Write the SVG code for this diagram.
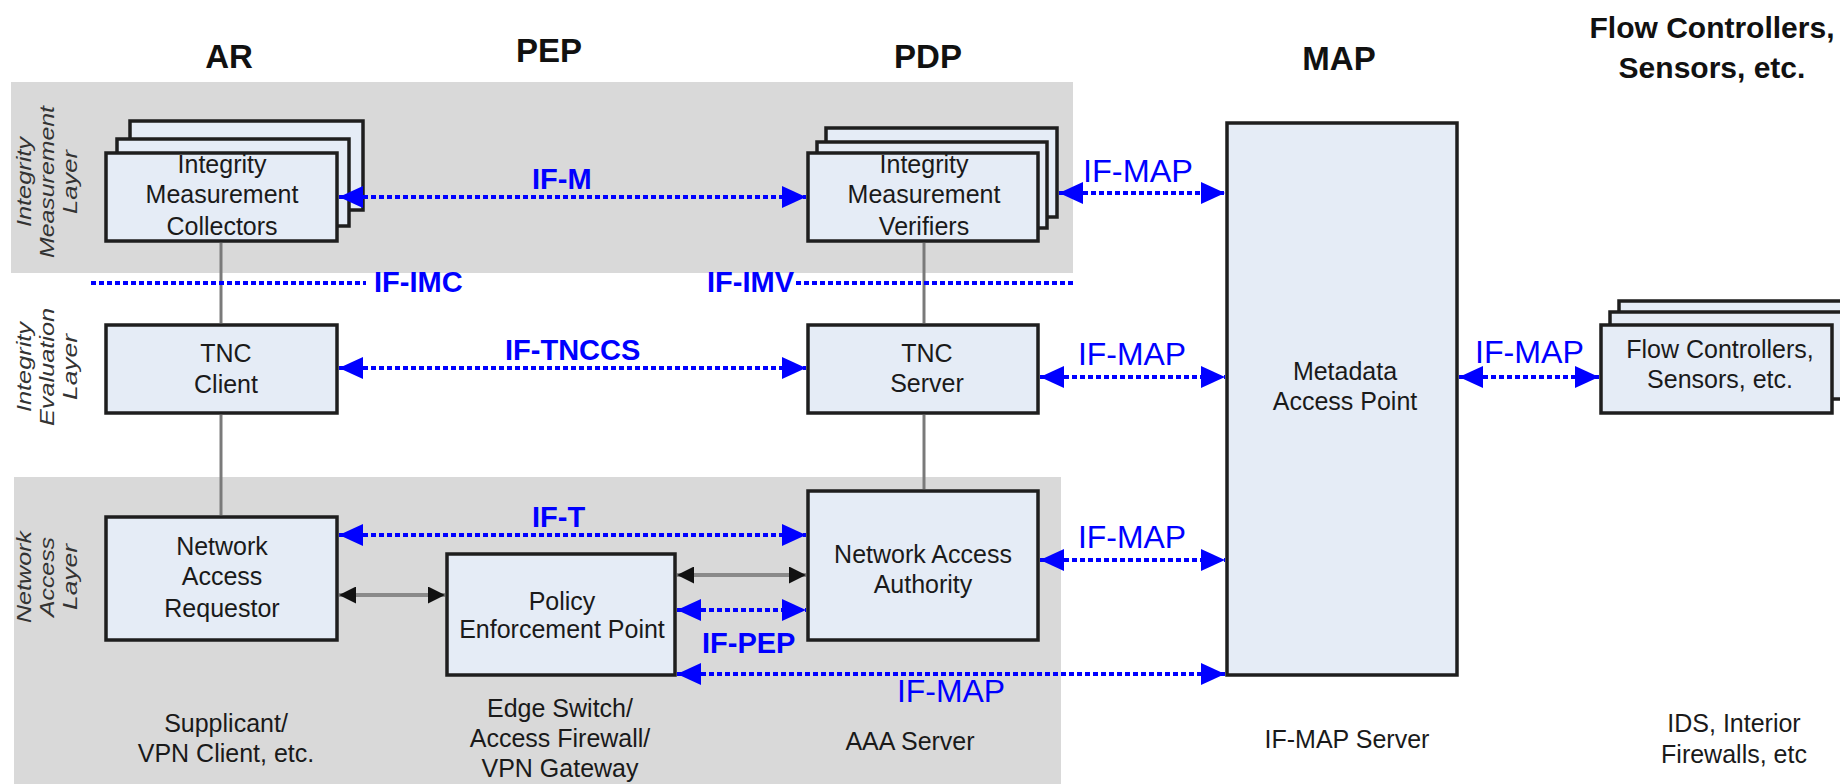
<svg xmlns="http://www.w3.org/2000/svg" width="1840" height="784" viewBox="0 0 1840 784">
<defs>
<style>
.band{fill:#d9d9d9}
.box{fill:#e5ecf6;stroke:#1e1e1e;stroke-width:3.5}
.t{font-family:"Liberation Sans",Arial,sans-serif;font-size:25px;fill:#1a1a1a;text-anchor:middle}
.h{font-family:"Liberation Sans",Arial,sans-serif;font-size:33px;font-weight:bold;fill:#111;text-anchor:middle}
.lbl{font-family:"Liberation Sans",Arial,sans-serif;font-size:29px;font-weight:bold;fill:#0000ff}
.lblr{font-family:"Liberation Sans",Arial,sans-serif;font-size:31px;fill:#0000ff}
.layer{font-family:"Liberation Sans",Arial,sans-serif;font-size:20px;font-style:italic;fill:#333;text-anchor:middle}
.dot{stroke:#0000ff;stroke-width:4;stroke-dasharray:5 3;fill:none}
.blk{stroke:#8a8a8a;stroke-width:4;fill:none}
.vline{stroke:#7a7a7a;stroke-width:3;fill:none}
</style>
<marker id="ab" viewBox="0 0 24 22" refX="24" refY="11" markerWidth="24" markerHeight="22" markerUnits="userSpaceOnUse" orient="auto-start-reverse"><path d="M0,0 L24,11 L0,22 z" fill="#0000ff"/></marker>
<marker id="ak" viewBox="0 0 17 17" refX="17" refY="8.5" markerWidth="17" markerHeight="17" markerUnits="userSpaceOnUse" orient="auto-start-reverse"><path d="M0,0 L17,8.5 L0,17 z" fill="#111"/></marker>
</defs>
<rect width="1840" height="784" fill="#fff"/>

<g id="layers">
<rect class="band" x="11" y="82" width="1062" height="191"/>
<rect class="band" x="14" y="477" width="1047" height="307"/>
<text class="layer" transform="translate(31,182) rotate(-90)"><tspan x="0" y="0" textLength="90" lengthAdjust="spacingAndGlyphs">Integrity</tspan><tspan x="0" y="23" textLength="152" lengthAdjust="spacingAndGlyphs">Measurement</tspan><tspan x="0" y="46" textLength="64" lengthAdjust="spacingAndGlyphs">Layer</tspan></text>
<text class="layer" transform="translate(31,367) rotate(-90)"><tspan x="0" y="0" textLength="90" lengthAdjust="spacingAndGlyphs">Integrity</tspan><tspan x="0" y="23" textLength="118" lengthAdjust="spacingAndGlyphs">Evaluation</tspan><tspan x="0" y="46" textLength="66" lengthAdjust="spacingAndGlyphs">Layer</tspan></text>
<text class="layer" transform="translate(31,577) rotate(-90)"><tspan x="0" y="0" textLength="92" lengthAdjust="spacingAndGlyphs">Network</tspan><tspan x="0" y="23" textLength="80" lengthAdjust="spacingAndGlyphs">Access</tspan><tspan x="0" y="46" textLength="66" lengthAdjust="spacingAndGlyphs">Layer</tspan></text>
</g>

<g id="headers">
<text class="h" x="229" y="68">AR</text>
<text class="h" x="549" y="62">PEP</text>
<text class="h" x="928" y="68">PDP</text>
<text class="h" x="1339" y="70">MAP</text>
<text class="h" x="1712" y="38" style="font-size:30px">Flow Controllers,</text>
<text class="h" x="1712" y="78" style="font-size:30px">Sensors, etc.</text>
</g>

<g id="imc">
<rect class="box" x="130" y="121" width="233" height="89"/>
<rect class="box" x="117" y="139" width="232" height="87"/>
<rect class="box" x="106" y="153" width="231" height="88"/>
<text class="t" x="222" y="173">Integrity</text>
<text class="t" x="222" y="203">Measurement</text>
<text class="t" x="222" y="235">Collectors</text>
</g>

<g id="imv">
<rect class="box" x="826" y="128" width="231" height="89"/>
<rect class="box" x="817" y="142" width="230" height="86"/>
<rect class="box" x="808" y="153" width="230" height="88"/>
<text class="t" x="924" y="173">Integrity</text>
<text class="t" x="924" y="203">Measurement</text>
<text class="t" x="924" y="235">Verifiers</text>
</g>

<g id="tnc-client">
<rect class="box" x="106" y="325" width="231" height="88"/>
<text class="t" x="226" y="362">TNC</text>
<text class="t" x="226" y="393">Client</text>
</g>

<g id="tnc-server">
<rect class="box" x="808" y="325" width="230" height="88"/>
<text class="t" x="927" y="362">TNC</text>
<text class="t" x="927" y="392">Server</text>
</g>

<g id="nar">
<rect class="box" x="106" y="517" width="231" height="123"/>
<text class="t" x="222" y="555">Network</text>
<text class="t" x="222" y="585">Access</text>
<text class="t" x="222" y="617">Requestor</text>
</g>

<g id="pep">
<rect class="box" x="447" y="554" width="228" height="121"/>
<text class="t" x="562" y="610">Policy</text>
<text class="t" x="562" y="638">Enforcement Point</text>
</g>

<g id="naa">
<rect class="box" x="808" y="491" width="230" height="149"/>
<text class="t" x="923" y="563">Network Access</text>
<text class="t" x="923" y="593">Authority</text>
</g>

<g id="map">
<rect class="box" x="1227" y="123" width="230" height="552"/>
<text class="t" x="1345" y="380">Metadata</text>
<text class="t" x="1345" y="410">Access Point</text>
</g>

<g id="flow">
<rect class="box" x="1619" y="301" width="235" height="86"/>
<rect class="box" x="1610" y="312" width="233" height="87"/>
<rect class="box" x="1601" y="325" width="231" height="88"/>
<text class="t" x="1720" y="358">Flow Controllers,</text>
<text class="t" x="1720" y="388">Sensors, etc.</text>
</g>

<g id="captions">
<text class="t" x="226" y="732">Supplicant/</text>
<text class="t" x="226" y="762">VPN Client, etc.</text>
<text class="t" x="560" y="717">Edge Switch/</text>
<text class="t" x="560" y="747">Access Firewall/</text>
<text class="t" x="560" y="777">VPN Gateway</text>
<text class="t" x="910" y="750">AAA Server</text>
<text class="t" x="1347" y="748">IF-MAP Server</text>
<text class="t" x="1734" y="732">IDS, Interior</text>
<text class="t" x="1734" y="763">Firewalls, etc</text>
</g>

<g id="connectors">
<line class="vline" x1="221" y1="243" x2="221" y2="323"/>
<line class="vline" x1="221" y1="415" x2="221" y2="515"/>
<line class="vline" x1="924" y1="243" x2="924" y2="323"/>
<line class="vline" x1="924" y1="415" x2="924" y2="489"/>
<line class="dot" x1="91" y1="283" x2="366" y2="283"/>
<line class="dot" x1="796" y1="283" x2="1074" y2="283"/>
<line class="dot" x1="339" y1="197" x2="806" y2="197" marker-start="url(#ab)" marker-end="url(#ab)"/>
<line class="dot" x1="339" y1="368" x2="806" y2="368" marker-start="url(#ab)" marker-end="url(#ab)"/>
<line class="dot" x1="339" y1="535" x2="806" y2="535" marker-start="url(#ab)" marker-end="url(#ab)"/>
<line class="dot" x1="1059" y1="193" x2="1225" y2="193" marker-start="url(#ab)" marker-end="url(#ab)"/>
<line class="dot" x1="1040" y1="377" x2="1225" y2="377" marker-start="url(#ab)" marker-end="url(#ab)"/>
<line class="dot" x1="1040" y1="560" x2="1225" y2="560" marker-start="url(#ab)" marker-end="url(#ab)"/>
<line class="dot" x1="677" y1="674" x2="1225" y2="674" marker-start="url(#ab)" marker-end="url(#ab)"/>
<line class="dot" x1="1459" y1="377" x2="1599" y2="377" marker-start="url(#ab)" marker-end="url(#ab)"/>
<line class="dot" x1="677" y1="610" x2="806" y2="610" marker-start="url(#ab)" marker-end="url(#ab)"/>
<line class="blk" x1="339" y1="595" x2="445" y2="595" marker-start="url(#ak)" marker-end="url(#ak)"/>
<line class="blk" x1="677" y1="575" x2="806" y2="575" marker-start="url(#ak)" marker-end="url(#ak)"/>
<text class="lbl" x="532" y="189">IF-M</text>
<text class="lbl" x="374" y="292">IF-IMC</text>
<text class="lbl" x="707" y="292">IF-IMV</text>
<text class="lbl" x="505" y="360">IF-TNCCS</text>
<text class="lbl" x="532" y="527">IF-T</text>
<text class="lbl" x="702" y="653">IF-PEP</text>
<text class="lblr" x="1083" y="182" textLength="110" lengthAdjust="spacingAndGlyphs">IF-MAP</text>
<text class="lblr" x="1078" y="365" textLength="108" lengthAdjust="spacingAndGlyphs">IF-MAP</text>
<text class="lblr" x="1078" y="548" textLength="108" lengthAdjust="spacingAndGlyphs">IF-MAP</text>
<text class="lblr" x="897" y="702" textLength="108" lengthAdjust="spacingAndGlyphs">IF-MAP</text>
<text class="lblr" x="1475" y="363" textLength="109" lengthAdjust="spacingAndGlyphs">IF-MAP</text>
</g>
</svg>
